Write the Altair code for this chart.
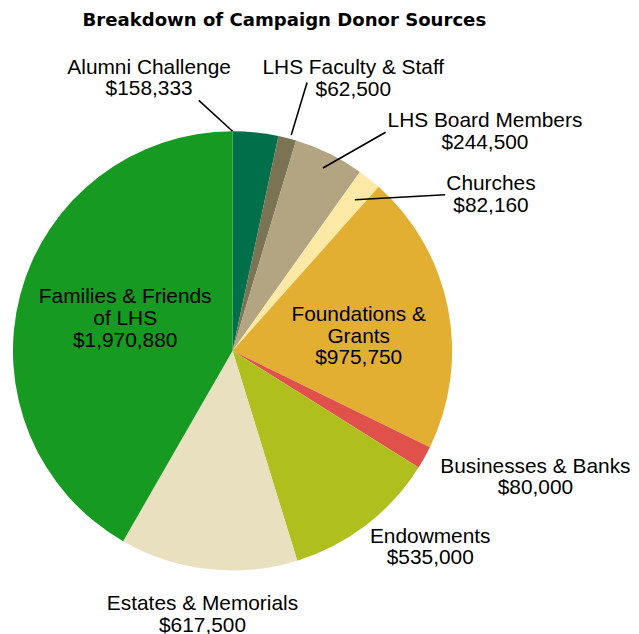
import math
import altair as alt
import pandas as pd

# ---- data ----
sources = ["Alumni Challenge", "LHS Faculty & Staff", "LHS Board Members", "Churches",
           "Foundations & Grants", "Businesses & Banks", "Endowments",
           "Estates & Memorials", "Families & Friends of LHS"]
amounts = [158333, 62500, 244500, 82160, 975750, 80000, 535000, 617500, 1970880]
label_names = ["Alumni Challenge", "LHS Faculty & Staff", "LHS Board Members", "Churches",
               "Foundations &\nGrants", "Businesses & Banks", "Endowments",
               "Estates & Memorials", "Families & Friends\nof LHS"]
colors = ["#006F4A", "#7A7354", "#B3A582", "#FDE9A6", "#E3AF33",
          "#E0514B", "#AFC01E", "#E9E0BF", "#169A22"]

# ---- label layout (angle nudge from slice middle in degrees, distance in pie radii) ----
label_dangle = [-23.07, 9.48, 23.0, 20.36, 4.72, -6.37, -7.63, 0.12, 1.55]
label_dist = [1.297, 1.356, 1.520, 1.374, 0.578, 1.495, 1.270, 1.211, 0.510]
# leader lines: (start nudge, start dist, end nudge, end dist) or None
leaders = [(-6.03, 1.0, -13.71, 1.151), (0.77, 1.018, 1.08, 1.268),
           (0.18, 0.929, 8.87, 1.215), (0.41, 0.885, 15.16, 1.201),
           None, None, None, None, None]

R = 221.0
LINE_H = 22.0
W, H = 623, 598
CX, CY = 226.0, 324.0

total = sum(amounts)
rows, lines = [], []
cum = 0.0
for i, (s, a) in enumerate(zip(sources, amounts)):
    mid = (cum + a / 2) / total * 360.0
    cum += a
    ang = math.radians(mid + label_dangle[i])
    text = label_names[i] + "\n" + "${:,}".format(a)
    n = text.count("\n") + 1
    rows.append({
        "idx": i, "source": s, "amount": a,
        "label": text,
        "lx": label_dist[i] * math.sin(ang),
        # first line position: block centre moved up by half the extra lines
        "ly": label_dist[i] * math.cos(ang) + (n - 1) * LINE_H / 2 / R,
    })
    if leaders[i]:
        sd, sr, ed, er = leaders[i]
        a1 = math.radians(mid + sd)
        a2 = math.radians(mid + ed)
        lines.append({"x": sr * math.sin(a1), "y": sr * math.cos(a1),
                      "x2": er * math.sin(a2), "y2": er * math.cos(a2)})

df = pd.DataFrame(rows)
ldf = pd.DataFrame(lines)

xs = alt.Scale(domain=[-CX / R, (W - CX) / R], nice=False, zero=False)
ys = alt.Scale(domain=[-(H - CY) / R, CY / R], nice=False, zero=False)

pie = alt.Chart(df).mark_arc(outerRadius=R).encode(
    theta=alt.Theta("amount:Q", stack=True),
    order=alt.Order("idx:Q", sort="ascending"),
    color=alt.Color("source:N", scale=alt.Scale(domain=sources, range=colors), legend=None),
    x=alt.XDatum(0, type="quantitative", scale=xs, axis=None),
    y=alt.YDatum(0, type="quantitative", scale=ys, axis=None),
)

rules = alt.Chart(ldf).mark_rule(color="black", strokeWidth=1.6).encode(
    x=alt.X("x:Q", scale=xs, axis=None),
    y=alt.Y("y:Q", scale=ys, axis=None),
    x2="x2:Q",
    y2="y2:Q",
)

labels = alt.Chart(df).mark_text(
    font="Liberation Sans", fontSize=21, lineBreak="\n", lineHeight=LINE_H,
    align="center", baseline="middle", color="black",
).encode(
    x=alt.X("lx:Q", scale=xs, axis=None),
    y=alt.Y("ly:Q", scale=ys, axis=None),
    text="label:N",
)

chart = alt.layer(pie, rules, labels).properties(
    width=W, height=H,
    padding=0,
    title=alt.TitleParams(
        "Breakdown of Campaign Donor Sources",
        font="DejaVu Sans", fontSize=18.2, fontWeight="bold", color="black",
        anchor="start", dx=75, dy=5, offset=4,
    ),
).configure_view(stroke=None)

chart.save("out.html", embed_options={"renderer": "svg", "actions": False})
